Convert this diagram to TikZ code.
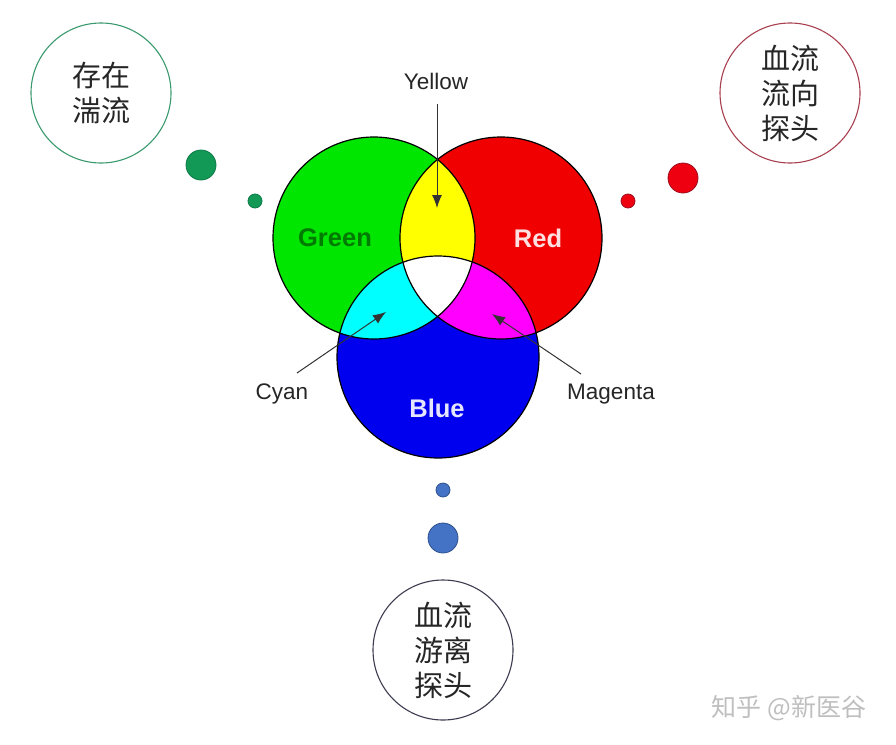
\documentclass[tikz,border=0pt]{standalone}
\usepackage{fontspec}
\setmainfont{Liberation Sans}
\newfontfamily\cjk{Noto Sans CJK SC}
\usetikzlibrary{arrows.meta}
\definecolor{vgreen}{HTML}{00E600}
\definecolor{vred}{HTML}{F00000}
\definecolor{vblue}{HTML}{0000EE}
\definecolor{vyellow}{HTML}{FFFF00}
\definecolor{vcyan}{HTML}{00FFFF}
\definecolor{vmagenta}{HTML}{FF00FF}
\definecolor{gring}{HTML}{3A9A6E}
\definecolor{rring}{HTML}{A84050}
\definecolor{bring}{HTML}{3C3C50}
\definecolor{gdot}{HTML}{119955}
\definecolor{gdotb}{HTML}{0E7A48}
\definecolor{rdot}{HTML}{EE0010}
\definecolor{rdotb}{HTML}{9A1020}
\definecolor{bdot}{HTML}{4472C4}
\definecolor{bdotb}{HTML}{2F528F}
\tikzset{
  venn/.style={circle, draw=black, line width=1.2pt, minimum size=202pt, inner sep=0pt},
  ring/.style={circle, line width=1.1pt, minimum size=140pt, inner sep=0pt, align=center,
     font=\cjk\fontsize{29}{35}\selectfont, text=black!85},
  dotbig/.style={circle, minimum size=30pt, inner sep=0pt, line width=0.8pt},
  dotsmall/.style={circle, minimum size=14pt, inner sep=0pt, line width=0.8pt},
  lab/.style={font=\fontsize{22.5}{26}\selectfont, text=black!85},
  blab/.style={font=\bfseries\fontsize{25.5}{28}\selectfont},
  arr/.style={line width=1pt, black!80, -{Latex[length=13pt,width=10pt]}}
}
\begin{document}
\begin{tikzpicture}[x=1pt,y=-1pt]
\useasboundingbox (0,0) rectangle (896,744);
\fill[white] (0,0) rectangle (896,744);
% Venn fills
\fill[vgreen] (374,238) circle[radius=101pt];
\fill[vred] (501,238) circle[radius=101pt];
\fill[vblue] (438,357) circle[radius=101pt];
\begin{scope}
  \clip (374,238) circle[radius=101pt];
  \fill[vyellow] (501,238) circle[radius=101pt];
  \fill[vcyan] (438,357) circle[radius=101pt];
\end{scope}
\begin{scope}
  \clip (501,238) circle[radius=101pt];
  \fill[vmagenta] (438,357) circle[radius=101pt];
  \clip (374,238) circle[radius=101pt];
  \fill[white] (438,357) circle[radius=101pt];
\end{scope}
% outlines
\node[venn] (G) at (374,238) {};
\node[venn] (R) at (501,238) {};
\node[venn] (B) at (438,357) {};
% labels in circles
\node[blab, text=black!20!green!60!black] (gt) at (335,238) {Green};
\node[blab, text=red!12!white] (rt) at (538,238) {Red};
\node[blab, text=blue!10!white] (bt) at (437,408) {Blue};
% outside labels and arrows
\node[lab] (yl) at (436,81) {Yellow};
\node[lab] (cl) at (282,394) {Cyan};
\node[lab] (ml) at (611,394) {Magenta};
\coordinate (yt) at (437,208);
\coordinate (ct) at (386,312);
\coordinate (mt) at (492,314);
\draw[arr] (437,104) -- (yt);
\draw[arr] (297,373) -- (ct);
\draw[arr] (581,374) -- (mt);
% green group
\node[ring, draw=gring] (gc) at (101,93) {存在\\湍流};
\node[dotbig, fill=gdot, draw=gdotb] (gd1) at (201,165) {};
\node[dotsmall, fill=gdot, draw=gdotb] (gd2) at (255,201) {};
% red group
\node[ring, draw=rring] (rc) at (790,93) {血流\\流向\\探头};
\node[dotbig, fill=rdot, draw=rdotb] (rd1) at (683,178) {};
\node[dotsmall, fill=rdot, draw=rdotb] (rd2) at (628,201) {};
% blue group
\node[ring, draw=bring] (bc) at (443,650) {血流\\游离\\探头};
\node[dotsmall, fill=bdot, draw=bdotb] (bd1) at (443,490) {};
\node[dotbig, fill=bdot, draw=bdotb] (bd2) at (443,538) {};
% watermark
\node[font=\cjk\fontsize{25}{28}\selectfont, text=black!25] (wm) at (789,708) {知乎 @新医谷};
\end{tikzpicture}
\end{document}
